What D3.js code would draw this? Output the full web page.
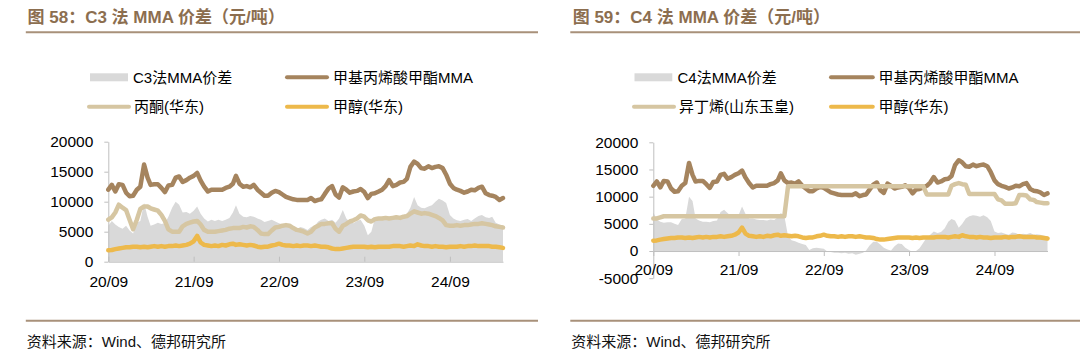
<!DOCTYPE html>
<html><head><meta charset="utf-8">
<script src="https://cdn.jsdelivr.net/npm/d3@7"></script>
<style>
html,body{margin:0;padding:0;background:#fff;}
svg{display:block;font-family:Arial,"Liberation Sans","Noto Sans CJK SC",sans-serif;}
</style></head>
<body><svg id="c" width="1080" height="360"></svg>
<script>
// ---------- data (semi-monthly, 2020/09 - 2025/04) ----------
const dates = [
"2020-09-01","2020-09-16","2020-10-01","2020-10-16","2020-11-01","2020-11-16","2020-12-01","2020-12-16",
"2021-01-01","2021-01-16","2021-02-01","2021-02-16","2021-03-01","2021-03-16","2021-04-01","2021-04-16",
"2021-05-01","2021-05-16","2021-06-01","2021-06-16","2021-07-01","2021-07-16","2021-08-01","2021-08-16",
"2021-09-01","2021-09-16","2021-10-01","2021-10-16","2021-11-01","2021-11-16","2021-12-01","2021-12-16",
"2022-01-01","2022-01-16","2022-02-01","2022-02-16","2022-03-01","2022-03-16","2022-04-01","2022-04-16",
"2022-05-01","2022-05-16","2022-06-01","2022-06-16","2022-07-01","2022-07-16","2022-08-01","2022-08-16",
"2022-09-01","2022-09-16","2022-10-01","2022-10-16","2022-11-01","2022-11-16","2022-12-01","2022-12-16",
"2023-01-01","2023-01-16","2023-02-01","2023-02-16","2023-03-01","2023-03-16","2023-04-01","2023-04-16",
"2023-05-01","2023-05-16","2023-06-01","2023-06-16","2023-07-01","2023-07-16","2023-08-01","2023-08-16",
"2023-09-01","2023-09-16","2023-10-01","2023-10-16","2023-11-01","2023-11-16","2023-12-01","2023-12-16",
"2024-01-01","2024-01-16","2024-02-01","2024-02-16","2024-03-01","2024-03-16","2024-04-01","2024-04-16",
"2024-05-01","2024-05-16","2024-06-01","2024-06-16","2024-07-01","2024-07-16","2024-08-01","2024-08-16",
"2024-09-01","2024-09-16","2024-10-01","2024-10-16","2024-11-01","2024-11-16","2024-12-01","2024-12-16",
"2025-01-01","2025-01-16","2025-02-01","2025-02-16","2025-03-01","2025-03-16","2025-04-01","2025-04-16"];

const mmaPrice = [
12000,12800,11700,12900,12800,11500,10900,11000,12000,12500,
16200,14000,12800,12900,12900,12300,11600,12700,12800,14000,
14200,13300,13600,14000,14300,14800,13500,12500,11700,12000,
12000,12000,12000,12300,12500,13000,14300,13000,12500,12600,
12400,12800,12000,11500,11000,11000,11500,11800,11600,11200,
10800,10600,10400,10300,10300,10300,10300,10600,10100,10300,
10400,11300,12200,12600,11200,10700,12400,12000,11500,11700,
11800,12100,11600,10600,11300,11400,11700,12000,12600,13600,
12600,12800,13200,13300,13800,15800,16700,16300,15600,15500,
15900,15600,15800,15900,15600,14500,13000,12300,12000,11800,
11500,11700,12000,11900,12300,12500,11400,11100,11000,10800,
10300,10600];

const acetonePrice = [
7000,7400,8200,9500,9000,8600,7000,5400,7000,8800,
9200,9200,8900,8700,8500,7800,6800,5400,5000,5000,
5000,5900,6300,6500,6700,6800,6200,5300,5000,5000,
5000,5100,5200,5300,5500,5600,5600,5600,5800,5700,
5900,5800,5300,4700,4600,4600,5200,5700,5800,6000,
6100,6000,5600,5300,5200,5000,4700,5000,5700,6000,
6300,6300,6400,6400,5500,5000,6000,6300,6700,6900,
7200,7700,7500,6900,6700,7100,7200,7200,7300,7200,
7300,7400,7300,7500,7600,8000,8400,8200,8000,8100,
8000,7800,7600,7300,6900,6100,6000,6000,6100,6000,
6100,6100,6200,6300,6300,6400,6300,6200,6100,5900,
5800,5700];

const methanolPrice = [
1900,1950,2100,2200,2300,2400,2400,2500,2500,2400,
2500,2400,2500,2600,2500,2600,2500,2600,2600,2700,
2600,2700,2800,3000,3400,4300,3200,2800,2700,2600,
2700,2600,2800,2700,2900,3000,2800,2900,2800,2700,
2800,2700,2500,2400,2500,2500,2700,2800,3000,2800,
2700,2700,2600,2700,2600,2700,2700,2600,2700,2600,
2500,2500,2400,2200,2100,2100,2200,2300,2400,2500,
2500,2500,2500,2400,2500,2400,2500,2500,2500,2500,
2600,2600,2600,2500,2600,2700,2600,2900,2700,2600,
2600,2500,2600,2500,2500,2400,2500,2500,2500,2600,
2500,2600,2600,2700,2600,2600,2600,2600,2500,2500,
2400,2300];

const c3Spread = [
6000,6800,6200,5800,5500,6000,5200,4700,6500,6800,
9800,7500,6000,6200,6500,6300,6400,7500,9000,10000,
9500,8200,8300,8000,8500,9200,8000,7200,6700,7000,
6800,7000,6800,7000,7300,8200,9400,8000,7500,7400,
7600,7500,7200,7000,6600,6800,7000,6700,6400,6200,
6000,6100,5600,5400,5800,5600,5300,5800,6000,6700,
7000,7200,6800,7000,6500,7200,8600,7200,6600,6400,
6800,7000,6000,4400,5000,7200,7400,7500,7600,7200,
7500,7400,7600,7800,8000,9000,10800,9400,9000,8900,
9200,9400,10000,10500,10200,9800,7800,7200,6900,6800,
7000,7100,6800,7200,7600,7800,7400,7300,7500,6500,
6200,6000];

const isobutylenePrice = [
6000,6000,6200,6400,6400,6400,6400,6400,6400,6400,
6400,6400,6400,6400,6400,6400,6400,6400,6400,6400,
6400,6400,6400,6400,6400,6400,6400,6400,6400,6400,
6400,6400,6400,6400,6400,6400,6400,6400,11900,11900,
11900,11900,11900,11900,11900,11900,11900,11900,11900,11900,
11900,11900,11900,11900,11900,11900,11900,11900,11900,11900,
11900,11900,11900,11900,11900,11900,11900,11900,11900,11900,
11900,11900,11900,11900,11900,11900,11900,10400,10400,10400,
10400,10400,10400,10400,12000,12300,12500,12300,12200,10500,
10500,10500,10500,10500,10500,10500,10500,9500,9300,8700,
8700,8700,8800,10300,10300,10200,9500,9400,9000,8900,
8800,8800];

const c4Spread = [
7100,5800,5400,5200,5300,5300,5000,4800,5900,6000,
10000,9200,6000,5600,5400,5400,5300,5500,5600,7200,
7600,7000,6400,6300,6600,8200,6800,6000,6000,5800,
5700,5700,5600,5800,5700,6200,7000,6500,2700,2000,
1800,1500,1300,1100,200,500,600,500,400,-100,
-200,-300,-300,-400,-300,-500,-400,-700,-500,-300,
100,1000,1700,1700,1200,600,300,100,900,1400,
1300,600,200,-200,0,500,1500,2500,3000,3600,
3300,3500,4200,5400,5900,5600,4300,5000,6000,6400,
6600,6500,6300,6600,6200,5500,3600,3300,3400,3200,
3000,3400,3300,3000,3200,3100,3300,3000,3100,3000,
2800,2700];

const xTickDates = ["2020-09-01","2021-09-01","2022-09-01","2023-09-01","2024-09-01"];
const xTickLabels = ["20/09","21/09","22/09","23/09","24/09"];
const leftYTicks = [0,5000,10000,15000,20000];
const rightYTicks = [-5000,0,5000,10000,15000,20000];

const leftLegend = ["C3法MMA价差","甲基丙烯酸甲酯MMA","丙酮(华东)","甲醇(华东)"];
const rightLegend = ["C4法MMA价差","甲基丙烯酸甲酯MMA","异丁烯(山东玉皇)","甲醇(华东)"];
const titles = ["图 58：C3 法 MMA 价差（元/吨）","图 59：C4 法 MMA 价差（元/吨）"];
const sourceText = "资料来源：Wind、德邦研究所";

// ---------- styles ----------
const C = {spread:"#D9D9D9", mma:"#A5845E", feed:"#D6C6A2", meoh:"#EDB94B",
           title:"#8C6E4F", rule:"#A8917A", axis:"#BFBFBF"};

const parse = d3.utcParse("%Y-%m-%d");
const D = dates.map(parse);
const svg = d3.select("#c");

function panel(o){
  const g = svg.append("g");
  // title
  g.append("text").attr("x",o.titleX).attr("y",23).attr("font-size",17).attr("font-weight","bold")
    .attr("fill",C.title).text(o.title);
  g.append("line").attr("x1",o.ruleX1).attr("x2",o.ruleX2).attr("y1",32.3).attr("y2",32.3)
    .attr("stroke",C.rule).attr("stroke-width",2);
  g.append("line").attr("x1",o.ruleX1).attr("x2",o.ruleX2).attr("y1",320.7).attr("y2",320.7)
    .attr("stroke",C.rule).attr("stroke-width",2);
  g.append("text").attr("x",o.ruleX1+1).attr("y",347).attr("font-size",15).attr("fill","#111").text(sourceText);

  // scales
  const yearPx = o.yearPx;
  const yrs = (D[D.length-1]-D[0])/(365.25*864e5);
  const x = d3.scaleUtc().domain([D[0],D[D.length-1]]).range([o.x0, o.x0+yearPx*yrs]);
  const y = d3.scaleLinear().domain(o.yDomain).range(o.yRange);

  // area
  const area = d3.area().x((d,i)=>x(D[i])).y0(y(0)).y1(d=>y(d));
  g.append("path").datum(o.spread).attr("d",area).attr("fill",C.spread);

  // axes
  const ya = g.append("g").attr("transform",`translate(${o.x0},0)`)
    .call(d3.axisLeft(y).tickValues(o.yTicks).tickSize(4).tickSizeOuter(0).tickPadding(11).tickFormat(d=>String(d)));
  ya.select(".domain").attr("stroke",C.axis);
  ya.selectAll(".tick line").attr("stroke",C.axis);
  ya.selectAll("text").attr("font-size",15.5).attr("fill","#000").attr("font-family",null);

  const xa = g.append("g").attr("transform",`translate(0,${y(0)})`)
    .call(d3.axisBottom(x).tickValues(xTickDates.map(parse)).tickSize(o.xTick).tickSizeOuter(0)
      .tickPadding(o.xPad).tickFormat((d,i)=>xTickLabels[i]));
  xa.select(".domain").attr("stroke",C.axis);
  xa.selectAll(".tick line").attr("stroke",C.axis);
  xa.selectAll("text").attr("font-size",15.5).attr("fill","#000").attr("font-family",null);

  // lines
  const line = d3.line().x((d,i)=>x(D[i])).y(d=>y(d)).curve(d3.curveLinear);
  [[mmaPrice,C.mma],[o.feed,C.feed],[methanolPrice,C.meoh]].forEach(([arr,col])=>{
    g.append("path").datum(arr).attr("d",line).attr("fill","none").attr("stroke",col)
      .attr("stroke-width",4.5).attr("stroke-linejoin","round").attr("stroke-linecap","round");
  });

  // legend
  const L = o.legend;
  const items = [
    {t:o.labels[0], kind:"rect", col:C.spread, x1:L.c1[0], x2:L.c1[1], tx:L.c1[2], y:77.3},
    {t:o.labels[1], kind:"line", col:C.mma, x1:L.c2[0], x2:L.c2[1], tx:L.c2[2], y:77.3},
    {t:o.labels[2], kind:"line", col:C.feed, x1:L.c3[0], x2:L.c3[1], tx:L.c3[2], y:106.7},
    {t:o.labels[3], kind:"line", col:C.meoh, x1:L.c4[0], x2:L.c4[1], tx:L.c4[2], y:106.7}];
  items.forEach(it=>{
    if(it.kind==="rect") g.append("rect").attr("x",it.x1).attr("y",it.y-4).attr("width",it.x2-it.x1).attr("height",8).attr("fill",it.col);
    else g.append("line").attr("x1",it.x1).attr("x2",it.x2).attr("y1",it.y).attr("y2",it.y)
      .attr("stroke",it.col).attr("stroke-width",4).attr("stroke-linecap","round");
    g.append("text").attr("x",it.tx).attr("y",it.y).attr("dy","0.35em").attr("font-size",15).attr("fill","#000").text(it.t);
  });
}

panel({title:titles[0], titleX:27.5, ruleX1:25.8, ruleX2:538,
  x0:108.3, yearPx:85.4, yDomain:[0,20000], yRange:[261.7,141.7], yTicks:leftYTicks,
  xTick:-5, xPad:14, spread:c3Spread, feed:acetonePrice, labels:leftLegend,
  legend:{c1:[90,128,133], c2:[287,327,333], c3:[89,129,134], c4:[287,327,333]}});

panel({title:titles[1], titleX:572.7, ruleX1:570.3, ruleX2:1080,
  x0:653.3, yearPx:85.3, yDomain:[-5000,20000], yRange:[278.2,142.3], yTicks:rightYTicks,
  xTick:5, xPad:8, spread:c4Spread, feed:isobutylenePrice, labels:rightLegend,
  legend:{c1:[634.5,672.3,677.5], c2:[831,872.8,878.6], c3:[634,674,679], c4:[831,872.8,878.6]}});
</script></body></html>
